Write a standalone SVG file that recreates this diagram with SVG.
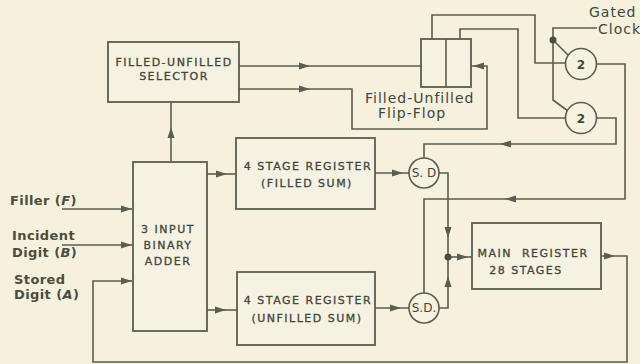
<svg xmlns="http://www.w3.org/2000/svg" xmlns:xlink="http://www.w3.org/1999/xlink" width="640" height="364" viewBox="0 0 640 364">
<style>
.ln{fill:none;stroke:#5a5d50;stroke-width:1.6;stroke-linejoin:miter}
.box{fill:#f6f2e2;stroke:#5a5d50;stroke-width:1.8}
.cir{fill:#f6f2e2;stroke:#5a5d50;stroke-width:1.6}
.bt{font-family:"DejaVu Sans",sans-serif;font-size:11px;letter-spacing:1.5px;fill:#42453a;stroke:#42453a;stroke-width:0.3;text-anchor:middle}
.lt{font-family:"DejaVu Sans",sans-serif;font-size:13px;font-weight:bold;fill:#4a4d42;letter-spacing:0.4px}
.ht{font-family:"DejaVu Sans",sans-serif;font-size:14px;fill:#42453a;letter-spacing:1px}
.ct{font-family:"DejaVu Sans",sans-serif;font-size:12px;fill:#42453a;text-anchor:middle}
.dot{fill:#4a4d42}
</style>
<defs>
<path id="ah" d="M0,0 L-11,-3.5 L-11,3.5 z" fill="#5a5d50"/>
</defs>
<rect width="640" height="364" fill="#f6f1dc"/>

<g id="connectors">
<path class="ln" d="M239,66 H421"/>
<path class="ln" d="M239,89 H352 V129 H487 V66 H471"/>
<path class="ln" d="M432,39 V15 H535 V63 H566"/>
<path class="ln" d="M460,39 V29 H518 V118 H566"/>
<path class="ln" d="M597,28 H553 V100 L568,111"/>
<path class="ln" d="M553,40 L569,56"/>
<path class="ln" d="M596,64 H625 V199 H424 V293"/>
<path class="ln" d="M596,118 H616 V144 H424 V158"/>
<path class="ln" d="M439,173 H448 V257"/>
<path class="ln" d="M439,308 H448 V257"/>
<path class="ln" d="M448,257 H472"/>
<path class="ln" d="M601,256 H627 V362 H93 V281 H133"/>
<path class="ln" d="M171,162 V102"/>
<path class="ln" d="M207,174 H236"/>
<path class="ln" d="M375,173 H409"/>
<path class="ln" d="M207,310 H237"/>
<path class="ln" d="M375,308 H409"/>
<path class="ln" d="M62,209 H133"/>
<path class="ln" d="M62,245 H133"/>
<use xlink:href="#ah" transform="translate(310,66)"/>
<use xlink:href="#ah" transform="translate(310,89)"/>
<use xlink:href="#ah" transform="translate(171,127) rotate(-90)"/>
<use xlink:href="#ah" transform="translate(473,66) rotate(180)"/>
<use xlink:href="#ah" transform="translate(227,174)"/>
<use xlink:href="#ah" transform="translate(403,173)"/>
<use xlink:href="#ah" transform="translate(226,310)"/>
<use xlink:href="#ah" transform="translate(401,308)"/>
<use xlink:href="#ah" transform="translate(448,238) rotate(90)"/>
<use xlink:href="#ah" transform="translate(448,276) rotate(-90)"/>
<use xlink:href="#ah" transform="translate(468,257)"/>
<use xlink:href="#ah" transform="translate(615,256)"/>
<use xlink:href="#ah" transform="translate(500,144) rotate(180)"/>
<use xlink:href="#ah" transform="translate(505,199) rotate(180)"/>
<use xlink:href="#ah" transform="translate(132,209)"/>
<use xlink:href="#ah" transform="translate(132,245)"/>
<use xlink:href="#ah" transform="translate(132,281)"/>
<circle class="dot" cx="448" cy="257" r="3.5"/>
<circle class="dot" cx="553" cy="40" r="3.5"/>
</g>

<g id="selector">
<rect class="box" x="108" y="42" width="131" height="60"/>
<text class="bt" x="174" y="66">FILLED-UNFILLED</text>
<text class="bt" x="174" y="80">SELECTOR</text>
</g>

<g id="adder">
<rect class="box" x="133" y="162" width="74" height="169"/>
<text class="bt" x="168" y="233">3 INPUT</text>
<text class="bt" x="168" y="249">BINARY</text>
<text class="bt" x="168" y="265">ADDER</text>
</g>

<g id="filled-register">
<rect class="box" x="236" y="138" width="139" height="71"/>
<text class="bt" x="308" y="170">4 STAGE REGISTER</text>
<text class="bt" x="307" y="187">(FILLED SUM)</text>
</g>

<g id="unfilled-register">
<rect class="box" x="237" y="272" width="138" height="73"/>
<text class="bt" x="308" y="304">4 STAGE REGISTER</text>
<text class="bt" x="307" y="322">(UNFILLED SUM)</text>
</g>

<g id="main-register">
<rect class="box" x="472" y="223" width="129" height="66"/>
<text class="bt" x="533" y="257" xml:space="preserve">MAIN  REGISTER</text>
<text class="bt" x="526" y="274">28 STAGES</text>
</g>

<g id="flip-flop">
<rect class="box" x="421" y="39" width="50" height="48"/>
<line class="ln" x1="446" y1="39" x2="446" y2="87"/>
<text class="ht" x="365" y="103">Filled-Unfilled</text>
<text class="ht" x="378" y="118">Flip-Flop</text>
</g>

<g id="sd-filled">
<circle class="cir" cx="424" cy="173" r="15"/>
<text class="ct" x="424" y="177" font-size="11">S. D</text>
</g>

<g id="sd-unfilled">
<circle class="cir" cx="424" cy="308" r="15"/>
<text class="ct" x="424" y="312" font-size="11">S.D.</text>
</g>

<g id="divider-upper">
<circle class="cir" cx="581" cy="64" r="15.5"/>
<text class="ct" x="581" y="69" font-size="14" font-weight="bold">2</text>
</g>

<g id="divider-lower">
<circle class="cir" cx="581" cy="118" r="15.5"/>
<text class="ct" x="581" y="123" font-size="14" font-weight="bold">2</text>
</g>

<g id="gated-clock">
<text class="ht" x="589" y="17" letter-spacing="0.5">Gated</text>
<text class="ht" x="598" y="34" letter-spacing="0.5">Clock</text>
</g>

<g id="inputs">
<text class="lt" x="10" y="205">Filler (<tspan font-style="italic">F</tspan>)</text>
<text class="lt" x="12" y="240">Incident</text>
<text class="lt" x="12" y="257">Digit (<tspan font-style="italic">B</tspan>)</text>
<text class="lt" x="14" y="284">Stored</text>
<text class="lt" x="14" y="299">Digit (<tspan font-style="italic">A</tspan>)</text>
</g>
</svg>
